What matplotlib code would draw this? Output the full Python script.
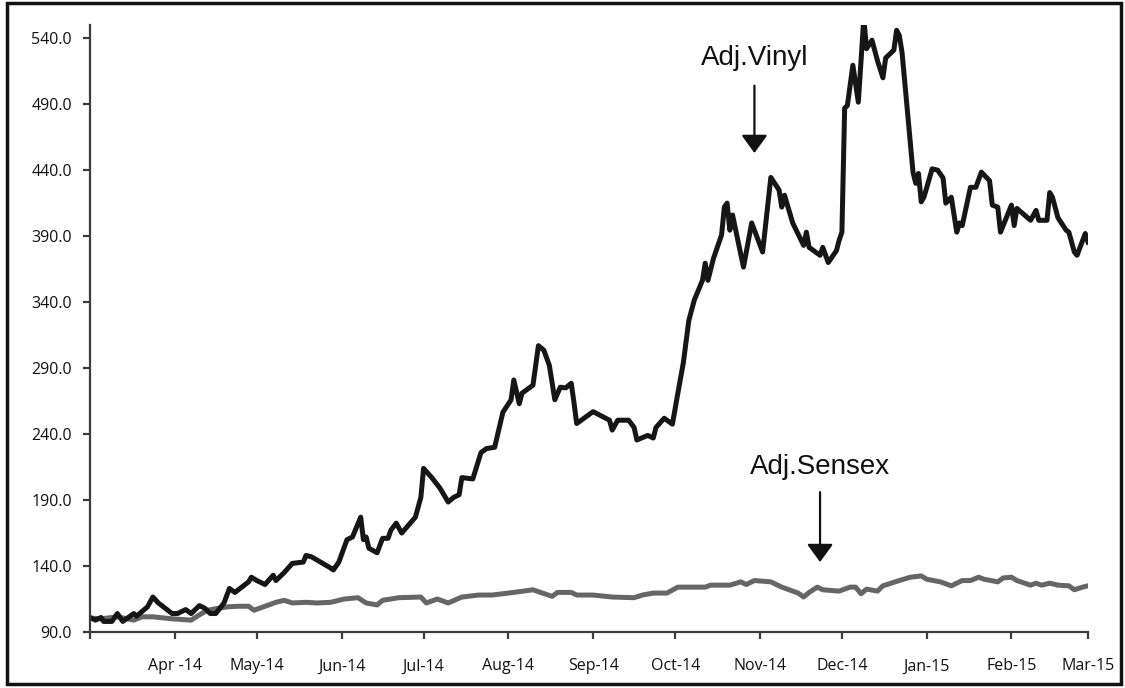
import numpy as np
import pandas as pd
import matplotlib
matplotlib.use("Agg")
from matplotlib import pyplot as plt
from matplotlib.patches import Rectangle

# days counted from 1 Mar 2014
start = pd.Timestamp("2014-03-01")

vinyl_day = [0, 2, 4, 5, 8, 10, 12, 16, 17, 21, 23, 25, 30, 32, 35, 37, 40, 42, 44, 46,
             49, 51, 53, 58, 59, 61, 64, 67, 68, 71, 74, 78, 79, 81, 88, 89, 91, 94, 96, 99,
             100, 101, 102, 105, 107, 109, 110, 112, 114, 119, 121, 122, 125, 128, 131, 133, 135, 136, 140, 143,
             145, 148, 151, 154, 155, 157, 158, 162, 164, 166, 168, 170, 172, 174, 176, 177, 178, 184, 190, 191,
             193, 197, 199, 200, 204, 206, 207, 210, 213, 215, 217, 219, 221, 224, 225, 226, 228, 231, 232, 233,
             234, 235, 239, 242, 246, 249, 252, 253, 254, 257, 261, 262, 263, 267, 268, 270, 273, 274, 275, 276,
             277, 279, 281, 283, 284, 286, 288, 290, 291, 294, 295, 296, 297, 301, 302, 303, 304, 305, 308, 310,
             312, 313, 315, 317, 318, 319, 322, 324, 326, 329, 330, 332, 333, 337, 338, 339, 344, 346, 347, 350,
             351, 352, 354, 357, 358, 360, 361, 364, 365]
vinyl_val = [101, 99, 101, 98, 98, 104, 98, 104, 102, 109, 116.5, 112, 104, 104, 107, 104, 110, 108, 104, 104,
             112, 123, 120, 128, 131.5, 129, 126, 133, 129, 135, 142, 143, 148, 147, 138.5, 137, 143, 160, 162, 177,
             160, 162, 153.5, 150, 161, 161, 167, 172.5, 165, 177, 192, 214, 207, 199, 188.5, 192, 194, 207, 206, 226,
             229, 230, 256.5, 266, 281, 263, 271, 277, 307, 303.5, 292, 266, 275.5, 275, 278.5, 264, 248, 257, 250.5, 243,
             250.5, 250.5, 245, 235.5, 239, 237, 245, 252, 247.5, 271, 294, 326, 341.5, 356.5, 369.5, 356.5, 373, 391, 412, 415,
             394.5, 406, 366.5, 400, 378, 434.5, 425, 412, 421, 400, 383, 393, 381.5, 375.5, 381.5, 370, 379, 387, 393, 487,
             489, 519.5, 491.5, 555, 532, 538.5, 523, 510, 525, 531, 546, 542, 529, 438.5, 430, 437.5, 416, 419.5, 441, 440,
             434, 415, 419.5, 393, 400, 398, 427, 427, 438.5, 432, 413.5, 412, 393, 413.5, 398, 411, 402, 409.5, 402, 402,
             423, 419.5, 404, 394.5, 393, 378, 375.5, 392, 385.5]

sensex_day = [0, 4, 10, 16, 19, 23, 30, 37, 40, 43, 47, 50, 54, 58, 60, 64, 68, 71, 74, 79,
              83, 88, 93, 98, 101, 105, 107, 113, 121, 123, 127, 131, 136, 142, 147, 155, 162, 169, 171, 176,
              178, 184, 191, 199, 202, 206, 211, 215, 225, 227, 234, 238, 240, 243, 249, 253, 259, 261, 263, 266,
              268, 274, 278, 280, 282, 284, 288, 290, 293, 296, 300, 304, 306, 311, 315, 319, 322, 325, 327, 332,
              334, 337, 339, 344, 346, 348, 351, 354, 358, 360, 363, 365]
sensex_val = [100.5, 100, 101.5, 99, 101.5, 101.5, 100, 99, 103, 106.5, 108, 109, 109.5, 109.5, 106.5, 109.5, 112.5, 114, 112, 112.5,
              112, 112.5, 115, 116, 112, 110.5, 114, 116, 116.5, 112, 115, 112, 116.5, 118, 118, 120, 122, 117, 120, 120,
              118, 118, 116.5, 116, 118, 119.5, 119.5, 124, 124, 125.5, 125.5, 128, 126, 129, 128, 124, 119.5, 116.5, 120, 124,
              122, 121, 124, 124, 119, 122.5, 121, 125, 127, 129, 131.5, 132.5, 130, 128, 125, 129, 129, 131.5, 130, 128,
              131, 131.5, 129, 125.5, 127, 125.5, 127, 125.5, 125, 122, 124, 125]

tick_dates = pd.date_range("2014-03-01", "2015-03-01", freq="MS")
tick_labels = ["", "Apr -14", "May-14", "Jun-14", "Jul-14", "Aug-14", "Sep-14",
               "Oct-14", "Nov-14", "Dec-14", "Jan-15", "Feb-15", "Mar-15"]
y_ticks = np.arange(90, 541, 50)

vinyl_dates = start + pd.to_timedelta(vinyl_day, unit="D")
sensex_dates = start + pd.to_timedelta(sensex_day, unit="D")

plt.rcParams['font.family'] = ['Open Sans', 'DejaVu Sans']

fig = plt.figure(figsize=(11.25, 6.88), dpi=100)
ax = fig.add_axes([90 / 1125, 56 / 688, 998 / 1125, 607 / 688])

ax.plot(sensex_dates, sensex_val, color='#666666', lw=3.6, solid_joinstyle='round')
ax.plot(vinyl_dates, vinyl_val, color='#161616', lw=3.6, solid_joinstyle='round')

ax.set_xlim(start, pd.Timestamp("2015-03-01"))
ax.set_ylim(90, 550)
ax.set_yticks(y_ticks)
ax.set_yticklabels(["%.1f" % v for v in y_ticks])
ax.set_xticks(tick_dates)
ax.set_xticklabels(tick_labels)

for s in ['top', 'right']:
    ax.spines[s].set_visible(False)
for s in ['left', 'bottom']:
    ax.spines[s].set_color('#3c3c3c')
    ax.spines[s].set_linewidth(1.6)
ax.tick_params(axis='both', colors='#3c3c3c', width=1.6, length=5, labelsize=11.5,
               labelcolor='#111111')
ax.tick_params(axis='x', pad=14)
ax.tick_params(axis='y', pad=8)

arrow = dict(arrowstyle='-|>,head_length=0.55,head_width=0.4', color='#111111',
             lw=1.6, mutation_scale=20, shrinkA=0, shrinkB=0)
ax.text(start + pd.Timedelta(days=243), 525, "Adj.Vinyl", ha='center', va='center',
        fontsize=20, family='Liberation Sans', color='#111111')
ax.annotate("", xy=(start + pd.Timedelta(days=243), 453),
            xytext=(start + pd.Timedelta(days=243), 504), arrowprops=arrow)
ax.text(start + pd.Timedelta(days=267), 215, "Adj.Sensex", ha='center', va='center',
        fontsize=20, family='Liberation Sans', color='#111111')
ax.annotate("", xy=(start + pd.Timedelta(days=267), 143),
            xytext=(start + pd.Timedelta(days=267), 196), arrowprops=arrow)

fig.patches.append(Rectangle((7 / 1125, 4 / 688), 1114 / 1125, 681 / 688,
                             transform=fig.transFigure, fill=False,
                             edgecolor='#111111', lw=2.5))

fig.savefig("out.png", dpi=100)
